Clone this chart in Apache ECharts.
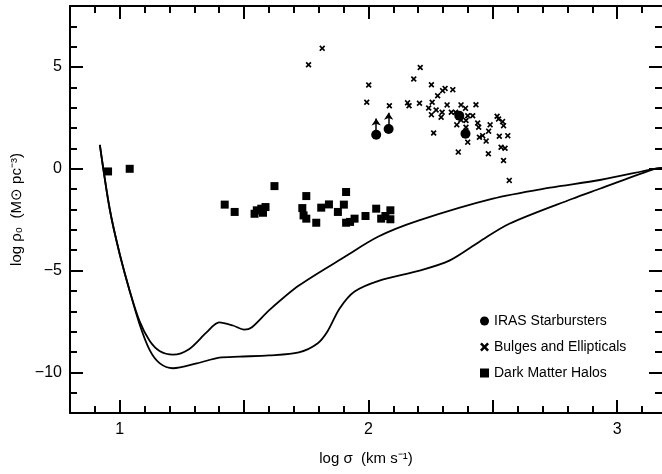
<!DOCTYPE html>
<html>
<head>
<meta charset="utf-8">
<script src="https://cdn.jsdelivr.net/npm/echarts@6/dist/echarts.min.js"></script>
<style>
  html, body { margin: 0; padding: 0; background: #fff; }
  #chart { width: 662px; height: 474px; }
</style>
</head>
<body>
<div id="chart"></div>
<script>
// Axis ranges and tick positions
const xRange = [0.8, 3.18];
const yRange = [-12, 8];
const xMajorTicks = [1, 1.5, 2, 2.5, 3];
const xLabelValues = [1, 2, 3];
const yMajorTicks = [-10, -5, 0, 5];
const yLabelValues = [-10, -5, 0, 5];

// IRAS starbursters (the first two are lower limits)
const irasX = [2.031, 2.081, 2.365, 2.390];
const irasY = [1.67, 1.96, 2.61, 1.72];
const irasLowerLimit = [true, true, false, false];

// Bulges and ellipticals
const bulgeX = [1.814, 1.759, 2.001, 1.993, 2.084, 2.208, 2.182, 2.157, 2.163, 2.205,
  2.253, 2.278, 2.298, 2.308, 2.339, 2.256, 2.242, 2.272, 2.253, 2.296,
  2.292, 2.316, 2.333, 2.262, 2.372, 2.390, 2.355, 2.361, 2.399, 2.419,
  2.432, 2.399, 2.392, 2.372, 2.392, 2.439, 2.443, 2.446, 2.459, 2.489,
  2.483, 2.473, 2.482, 2.517, 2.523, 2.539, 2.543, 2.526, 2.560, 2.533,
  2.549, 2.543, 2.566, 2.350];
const bulgeY = [5.92, 5.11, 4.12, 3.27, 3.10, 4.98, 4.41, 3.24, 3.10, 3.22,
  4.13, 3.59, 3.84, 3.95, 3.89, 3.27, 2.99, 2.89, 2.66, 2.78,
  2.53, 3.14, 2.78, 1.76, 3.14, 2.97, 2.16, 0.82, 2.61, 2.61,
  3.15, 1.31, 2.04, 2.40, 2.37, 2.25, 2.04, 1.55, 1.63, 2.16,
  1.85, 1.36, 0.74, 2.58, 2.45, 2.32, 2.12, 1.60, 1.63, 1.06,
  1.01, 0.41, -0.57, 2.78];

// Dark matter halos
const haloX = [0.953, 1.040, 1.422, 1.462, 1.542, 1.551, 1.569, 1.586, 1.576, 1.622,
  1.750, 1.734, 1.739, 1.750, 1.790, 1.810, 1.841, 1.877, 1.901, 1.910,
  1.910, 1.926, 1.944, 1.988, 2.031, 2.051, 2.068, 2.088, 2.088];
const haloY = [-0.13, 0.0, -1.76, -2.12, -2.21, -2.04, -1.96, -1.88, -2.16, -0.85,
  -1.34, -1.93, -2.29, -2.45, -2.65, -1.91, -1.75, -2.12, -1.76, -1.14,
  -2.65, -2.61, -2.45, -2.32, -1.96, -2.45, -2.32, -2.04, -2.48];

// Model curves
const upperCurveX = [0.92, 0.96, 1.0, 1.04, 1.08, 1.12, 1.16, 1.214, 1.28, 1.348,
  1.40, 1.455, 1.50, 1.53, 1.60, 1.72, 1.90, 2.04, 2.20, 2.50, 2.73, 2.93, 3.15, 3.18];
const upperCurveY = [1.18, -2.0, -4.2, -6.0, -7.5, -8.45, -8.95, -9.13, -8.85, -8.05,
  -7.55, -7.7, -7.9, -7.8, -6.96, -5.74, -4.36, -3.33, -2.55, -1.47, -0.93, -0.55, 0.0, 0.05];
const lowerCurveX = [0.92, 0.96, 1.0, 1.04, 1.08, 1.12, 1.16, 1.214, 1.31, 1.40,
  1.48, 1.60, 1.72, 1.795, 1.835, 1.884, 1.944, 2.044, 2.205, 2.325, 2.446, 2.566, 2.82, 2.93, 3.15, 3.18];
const lowerCurveY = [1.18, -2.0, -4.2, -6.0, -7.65, -8.9, -9.55, -9.80, -9.56, -9.28,
  -9.23, -9.17, -9.02, -8.58, -7.99, -6.86, -6.03, -5.49, -5.0, -4.51, -3.58, -2.70, -1.47, -0.98, 0.0, 0.05];

const zip = (xs, ys) => xs.map((x, i) => [x, ys[i]]);

// minor tick positions every 0.1 in x and every 1 in y
const xMinorTicks = [];
for (let v = 9; v <= 31; v++) xMinorTicks.push(v / 10);
const yMinorTicks = [];
for (let v = -11; v <= 7; v++) yMinorTicks.push(v);

const crossPath = 'path://M0,2L2,0L5,3L8,0L10,2L7,5L10,8L8,10L5,7L2,10L0,8L3,5Z';
const FONT = '"Liberation Sans", Arial, Helvetica, sans-serif';
const INK = '#000';

function xAxisDef(pos, major, showLine, showLabel, withName) {
  return {
    type: 'value', position: pos, min: xRange[0], max: xRange[1],
    splitLine: { show: false },
    axisLine: { show: showLine, onZero: false, lineStyle: { color: INK, width: 2 } },
    axisTick: { show: true, inside: true, length: major ? 13 : 7,
      customValues: major ? xMajorTicks : xMinorTicks, lineStyle: { color: INK, width: 2 } },
    axisLabel: { show: showLabel, customValues: xLabelValues, color: INK, fontSize: 16,
      fontFamily: FONT, margin: 9 },
    name: withName ? 'log σ  (km s⁻¹)' : '', nameLocation: 'middle', nameGap: 38,
    nameTextStyle: { color: INK, fontSize: 15, fontFamily: FONT }
  };
}
function yAxisDef(pos, major, showLine, showLabel, withName) {
  return {
    type: 'value', position: pos, min: yRange[0], max: yRange[1],
    splitLine: { show: false },
    axisLine: { show: showLine, onZero: false, lineStyle: { color: INK, width: 2 } },
    axisTick: { show: true, inside: true, length: major ? 13 : 7,
      customValues: major ? yMajorTicks : yMinorTicks, lineStyle: { color: INK, width: 2 } },
    axisLabel: { show: showLabel, customValues: yLabelValues, color: INK, fontSize: 16,
      fontFamily: FONT, margin: 8, formatter: v => (v < 0 ? '\u2212' + Math.abs(v) : String(v)) },
    name: withName ? 'log ρ₀  (M⊙ pc⁻³)' : '', nameLocation: 'middle', nameGap: 43,
    nameTextStyle: { color: INK, fontSize: 15, fontFamily: FONT }
  };
}

const arrowLines = [];
irasX.forEach((x, i) => {
  if (irasLowerLimit[i]) arrowLines.push([{ coord: [x, irasY[i]] }, { coord: [x, irasY[i] + 0.8] }]);
});

const option = {
  backgroundColor: '#fff',
  animation: false,
  grid: { left: 70, right: 0, top: 6, bottom: 61 },
  xAxis: [
    xAxisDef('bottom', true, true, true, true),
    xAxisDef('bottom', false, false, false, false),
    xAxisDef('top', true, true, false, false),
    xAxisDef('top', false, false, false, false)
  ],
  yAxis: [
    yAxisDef('left', true, true, true, true),
    yAxisDef('left', false, false, false, false),
    yAxisDef('right', true, false, false, false),
    yAxisDef('right', false, false, false, false)
  ],
  legend: {
    orient: 'vertical', left: 475, top: 309, itemGap: 12,
    itemWidth: 9, itemHeight: 9,
    textStyle: { color: INK, fontSize: 14, fontFamily: FONT },
    data: [
      { name: 'IRAS Starbursters', icon: 'circle' },
      { name: 'Bulges and Ellipticals', icon: crossPath },
      { name: 'Dark Matter Halos', icon: 'rect' }
    ]
  },
  series: [
    {
      name: 'upper model', type: 'line', data: zip(upperCurveX, upperCurveY),
      showSymbol: false, smooth: 0.3,
      lineStyle: { color: INK, width: 1.8 }, silent: true
    },
    {
      name: 'lower model', type: 'line', data: zip(lowerCurveX, lowerCurveY),
      showSymbol: false, smooth: 0.3,
      lineStyle: { color: INK, width: 1.8 }, silent: true
    },
    {
      name: 'Dark Matter Halos', type: 'scatter', data: zip(haloX, haloY),
      symbol: 'rect', symbolSize: 8, itemStyle: { color: INK, opacity: 1 }
    },
    {
      name: 'Bulges and Ellipticals', type: 'scatter', data: zip(bulgeX, bulgeY),
      symbol: crossPath, symbolSize: 6, itemStyle: { color: INK, opacity: 1 }
    },
    {
      name: 'IRAS Starbursters', type: 'scatter', data: zip(irasX, irasY),
      symbol: 'circle', symbolSize: 10, itemStyle: { color: INK, opacity: 1 },
      markLine: {
        silent: true, symbol: ['none', 'arrow'], symbolSize: [7, 7],
        label: { show: false },
        lineStyle: { color: INK, width: 1.5, type: 'solid', opacity: 1 },
        data: arrowLines
      }
    }
  ]
};

const chart = echarts.init(document.getElementById('chart'), null, { renderer: 'canvas' });
chart.setOption(option);
</script>
</body>
</html>
